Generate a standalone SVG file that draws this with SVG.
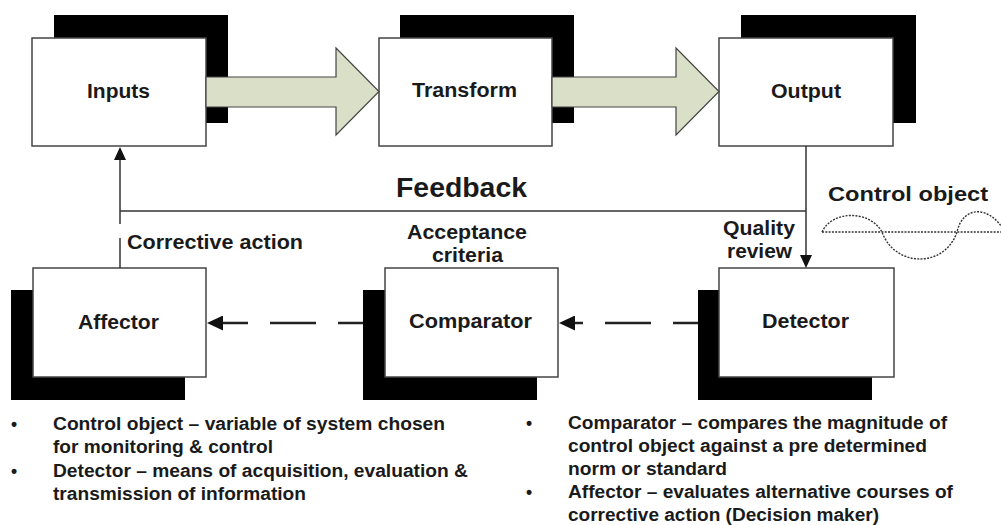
<svg xmlns="http://www.w3.org/2000/svg" width="1001" height="525" viewBox="0 0 1001 525">
<style>
.bg{fill:#fff}
.shadow{fill:#000}
.box{fill:#fff;stroke:#444;stroke-width:1.5}
.lbl{font-family:"Liberation Sans",Arial,sans-serif;font-weight:bold;fill:#1a1a1a}
.big{font-size:20px}
.body{font-size:17.5px}
.block{fill:#dadfc8;stroke:#444;stroke-width:1.2;stroke-linejoin:miter}
.line{fill:none;stroke:#333;stroke-width:1.5}
.dash{fill:none;stroke:#222;stroke-width:2.5;stroke-dasharray:46 22;stroke-dashoffset:21}
.dot{fill:none;stroke:#333;stroke-width:1.4;stroke-dasharray:2 1.3}
</style>
<defs>
<marker id="head" viewBox="0 0 13 12" refX="5" refY="6" markerWidth="13" markerHeight="12" markerUnits="userSpaceOnUse" orient="auto">
<path d="M0,0 L13,6 L0,12 z" fill="#111"/>
</marker>
<marker id="headL" viewBox="0 0 16 15" refX="6" refY="7.5" markerWidth="16" markerHeight="15" markerUnits="userSpaceOnUse" orient="auto">
<path d="M0,0 L16,7.5 L0,15 z" fill="#111"/>
</marker>
</defs>
<rect class="bg" x="0" y="0" width="1001" height="525"/>

<g id="inputs">
<rect class="shadow" x="54" y="15" width="174" height="108"/>
<rect class="box" x="32" y="38" width="174" height="108"/>
<text class="lbl big" x="87" y="98" textLength="63" lengthAdjust="spacingAndGlyphs">Inputs</text>
</g>
<g id="transform">
<rect class="shadow" x="400" y="15" width="174" height="108"/>
<rect class="box" x="379" y="38" width="173" height="108"/>
<text class="lbl big" x="412" y="97" textLength="105" lengthAdjust="spacingAndGlyphs">Transform</text>
</g>
<g id="output">
<rect class="shadow" x="741" y="15" width="175" height="108"/>
<rect class="box" x="719" y="38" width="174" height="108"/>
<text class="lbl big" x="771" y="98" textLength="70" lengthAdjust="spacingAndGlyphs">Output</text>
</g>
<g id="affector">
<rect class="shadow" x="11" y="290" width="174" height="110"/>
<rect class="box" x="33" y="268" width="173" height="109"/>
<text class="lbl big" x="78" y="329" textLength="81" lengthAdjust="spacingAndGlyphs">Affector</text>
</g>
<g id="comparator">
<rect class="shadow" x="363" y="290" width="174" height="110"/>
<rect class="box" x="385" y="268" width="173" height="109"/>
<text class="lbl big" x="409" y="328" textLength="123" lengthAdjust="spacingAndGlyphs">Comparator</text>
</g>
<g id="detector">
<rect class="shadow" x="698" y="290" width="174" height="110"/>
<rect class="box" x="719" y="268" width="175" height="109"/>
<text class="lbl big" x="762" y="328" textLength="87" lengthAdjust="spacingAndGlyphs">Detector</text>
</g>

<g id="connectors">
<polygon class="block" points="206,77 336,77 336,48 379,91.5 336,135 336,107 206,107"/>
<polygon class="block" points="552,77 676,77 676,48 719,91.5 676,135 676,107 552,107"/>
<path class="line" d="M806,146 L806,260" marker-end="url(#head)"/>
<path class="line" d="M806,211 L120,211"/>
<path class="line" d="M120,224 L120,155" marker-end="url(#head)"/>
<path class="line" d="M120,238 L120,268"/>
<path class="dash" d="M698,323 L569,323" marker-end="url(#headL)"/>
<path class="dash" d="M363,323 L217,323" marker-end="url(#headL)"/>
</g>

<g id="labels">
<text class="lbl" font-size="27" x="396" y="197" textLength="131" lengthAdjust="spacingAndGlyphs">Feedback</text>
<text class="lbl big" x="127" y="249" textLength="176" lengthAdjust="spacingAndGlyphs">Corrective action</text>
<text class="lbl big" x="407" y="239" textLength="120" lengthAdjust="spacingAndGlyphs">Acceptance</text>
<text class="lbl big" x="432" y="262" textLength="71" lengthAdjust="spacingAndGlyphs">criteria</text>
<text class="lbl big" x="723" y="235" textLength="72" lengthAdjust="spacingAndGlyphs">Quality</text>
<text class="lbl big" x="727" y="258" textLength="65" lengthAdjust="spacingAndGlyphs">review</text>
</g>

<g id="control-object">
<text class="lbl" font-size="21" x="828" y="201" textLength="160" lengthAdjust="spacingAndGlyphs">Control object</text>
<path class="dot" d="M822,232 L1001,232"/>
<path class="dot" d="M822,232 C832,210 870,210 882,232 C895,268 945,268 957,232 C963,205 990,205 1005,232"/>
</g>

<g id="notes">
<text class="lbl body" x="14" y="430" text-anchor="middle">•</text>
<text class="lbl body" x="53" y="430" textLength="392" lengthAdjust="spacingAndGlyphs">Control object – variable of system chosen</text>
<text class="lbl body" x="53" y="453" textLength="220" lengthAdjust="spacingAndGlyphs">for monitoring &amp; control</text>
<text class="lbl body" x="14" y="477" text-anchor="middle">•</text>
<text class="lbl body" x="53" y="477" textLength="415" lengthAdjust="spacingAndGlyphs">Detector – means of acquisition, evaluation &amp;</text>
<text class="lbl body" x="53" y="500" textLength="253" lengthAdjust="spacingAndGlyphs">transmission of information</text>
<text class="lbl body" x="529" y="429" text-anchor="middle">•</text>
<text class="lbl body" x="568" y="429" textLength="379" lengthAdjust="spacingAndGlyphs">Comparator – compares the magnitude of</text>
<text class="lbl body" x="568" y="452" textLength="359" lengthAdjust="spacingAndGlyphs">control object against a pre determined</text>
<text class="lbl body" x="568" y="475" textLength="159" lengthAdjust="spacingAndGlyphs">norm or standard</text>
<text class="lbl body" x="529" y="498" text-anchor="middle">•</text>
<text class="lbl body" x="568" y="498" textLength="385" lengthAdjust="spacingAndGlyphs">Affector – evaluates alternative courses of</text>
<text class="lbl body" x="568" y="521" textLength="311" lengthAdjust="spacingAndGlyphs">corrective action (Decision maker)</text>
</g>
</svg>
